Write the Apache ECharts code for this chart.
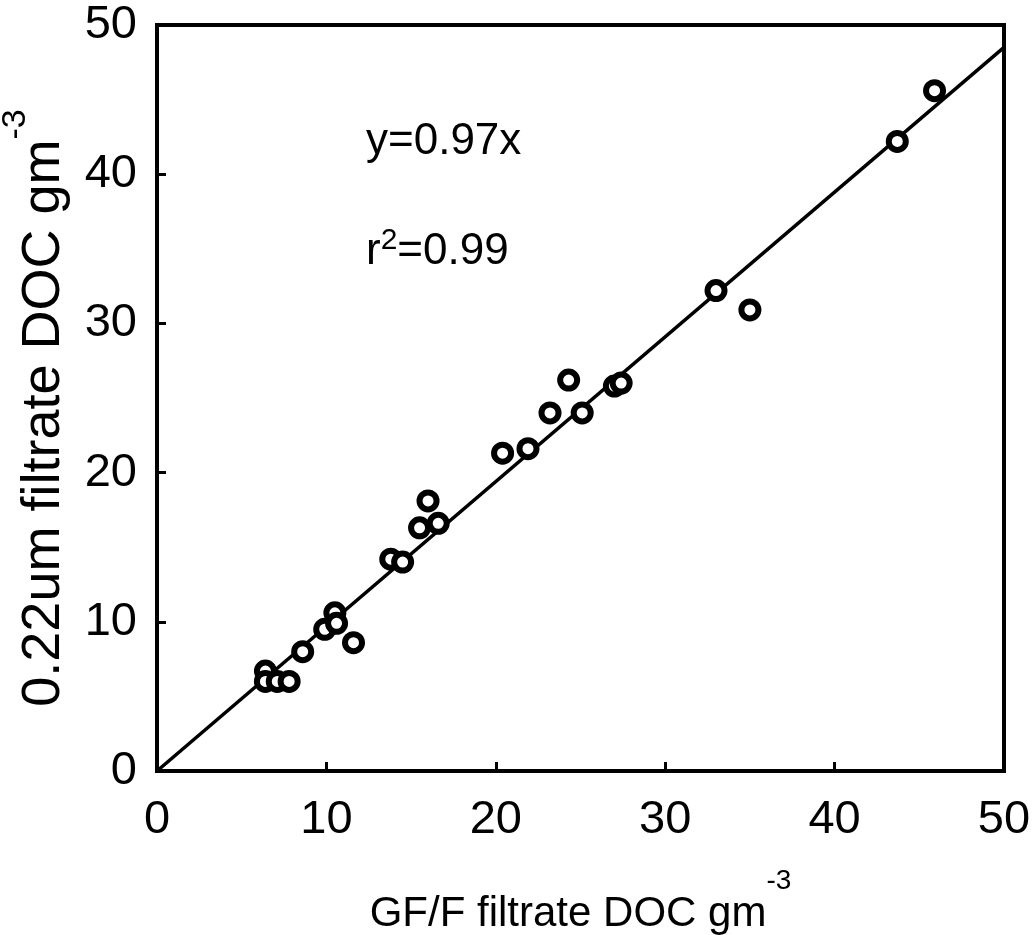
<!DOCTYPE html>
<html>
<head>
<meta charset="utf-8">
<script src="https://cdn.jsdelivr.net/npm/echarts@6/dist/echarts.min.js"></script>
<style>html,body{margin:0;padding:0;background:#fff;}#chart{width:1036px;height:935px;}</style>
</head>
<body>
<div id="chart"></div>
<script>
// GF/F filtrate DOC (x) and 0.22um filtrate DOC (y), g m^-3
const gffDOC = [45.9, 43.7, 33.0, 35.0, 27.0, 27.4, 24.3, 23.2, 25.1, 21.9, 20.4, 16.0, 15.5, 16.6, 13.8, 14.5, 10.5, 9.9, 10.6, 11.6, 8.6, 6.4, 6.4, 7.1, 7.8];
const filt022DOC = [45.6, 42.2, 32.2, 30.9, 25.8, 26.0, 26.2, 24.0, 24.0, 21.6, 21.3, 18.1, 16.3, 16.6, 14.2, 14.0, 10.6, 9.5, 9.9, 8.6, 8.0, 6.7, 6.0, 6.0, 6.0];
// regression line y = 0.97x end points
const fitX = [0, 50];
const fitY = [0, 48.5];
const axisTicks = [0, 10, 20, 30, 40, 50];
const eqText = 'y=0.97x';
const r2Value = '0.99';

const FONT = '"Liberation Sans", Arial, sans-serif';
const chart = echarts.init(document.getElementById('chart'));
const pts = gffDOC.map((x, i) => [x, filt022DOC[i]]);
const linePts = fitX.map((x, i) => [x, fitY[i]]);

const xTitleRich = {
  a: { fontSize: 42, lineHeight: 68, fontFamily: FONT, color: '#000', verticalAlign: 'bottom' },
  s: { fontSize: 28, lineHeight: 28, fontFamily: FONT, color: '#000', verticalAlign: 'top' }
};
const yTitleRich = {
  a: { fontSize: 54, lineHeight: 72, fontFamily: FONT, color: '#000', verticalAlign: 'bottom' },
  s: { fontSize: 34, lineHeight: 34, fontFamily: FONT, color: '#000', verticalAlign: 'top' }
};

chart.setOption({
  animation: false,
  backgroundColor: '#fff',
  grid: { left: 157, top: 25, right: 32, bottom: 164, outerBoundsMode: 'none', containLabel: false, show: true, borderColor: '#000', borderWidth: 4, backgroundColor: 'transparent' },
  xAxis: {
    type: 'value', min: axisTicks[0], max: axisTicks[axisTicks.length - 1], interval: 10,
    axisLine: { show: true, onZero: false, lineStyle: { color: '#000', width: 4 } },
    axisTick: { show: true, inside: true, length: 9, lineStyle: { color: '#000', width: 3 } },
    splitLine: { show: false },
    axisLabel: { color: '#000', fontSize: 47, fontFamily: FONT, margin: 26 },
    name: '{a|GF/F filtrate DOC gm}{s|-3}',
    nameLocation: 'middle', nameGap: 96,
    nameTextStyle: { color: '#000', fontFamily: FONT, fontSize: 42, rich: xTitleRich }
  },
  yAxis: {
    type: 'value', min: axisTicks[0], max: axisTicks[axisTicks.length - 1], interval: 10,
    axisLine: { show: true, onZero: false, lineStyle: { color: '#000', width: 4 } },
    axisTick: { show: true, inside: true, length: 9, lineStyle: { color: '#000', width: 3 } },
    splitLine: { show: false },
    axisLabel: { color: '#000', fontSize: 47, fontFamily: FONT, margin: 20 },
    name: '{a|0.22um filtrate DOC gm}{s|-3}',
    nameLocation: 'middle', nameGap: 86, nameRotate: 90,
    nameTextStyle: { color: '#000', fontFamily: FONT, fontSize: 54, padding: [0, 20, 0, 0], rich: yTitleRich }
  },
  graphic: [
    { type: 'text', left: 366, top: 120, style: { text: eqText, font: '44px ' + FONT, fill: '#000' } },
    { type: 'text', left: 366, top: 226, style: {
        text: '{a|r}{s|2}{a|=' + r2Value + '}',
        rich: {
          a: { fontSize: 44, lineHeight: 48, fontFamily: FONT, fill: '#000', color: '#000', verticalAlign: 'bottom' },
          s: { fontSize: 30, lineHeight: 30, fontFamily: FONT, fill: '#000', color: '#000', verticalAlign: 'top' }
        }
      } }
  ],
  series: [
    {
      type: 'line', data: linePts, symbol: 'none', z: 1,
      lineStyle: { color: '#000', width: 3.5 }, silent: true
    },
    {
      type: 'scatter', data: pts, z: 2, symbol: 'circle', symbolSize: 17,
      itemStyle: { color: '#fff', borderColor: '#000', borderWidth: 6, opacity: 1 }
    }
  ]
});
</script>
</body>
</html>
